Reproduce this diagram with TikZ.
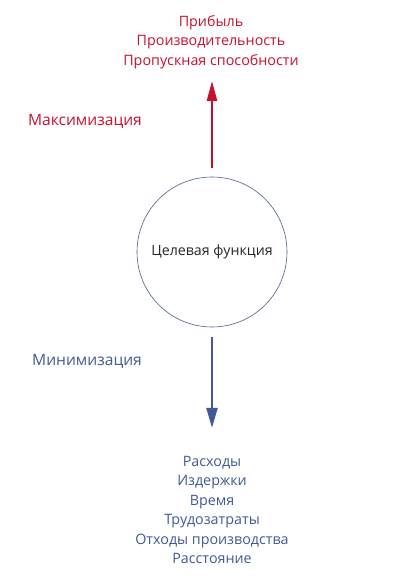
\documentclass[tikz,border=0pt]{standalone}
\usepackage{fontspec}
\setmainfont{Open Sans}
\usepackage{xcolor}
\usetikzlibrary{arrows.meta, positioning}

\definecolor{maxred}{HTML}{C8102E}
\definecolor{minblue}{HTML}{3F5A96}
\definecolor{ringblue}{HTML}{4A5F85}

\begin{document}
\begin{tikzpicture}[
    x=1pt, y=1pt,
    goalnode/.style={draw=ringblue, circle, line width=0.6pt, minimum size=150pt, inner sep=0pt, font=\fontsize{14.2}{16}\selectfont, text=black!85},
    list/.style={align=center, inner sep=0pt, font=\fontsize{14.3}{19.5}\selectfont},
    dirlbl/.style={inner sep=0pt, font=\fontsize{15.6}{18}\selectfont},
    maxarrow/.style={draw=maxred, line width=2.5pt, -{Triangle[length=20pt, width=10pt]}},
    minarrow/.style={draw=minblue, line width=2.5pt, -{Triangle[length=20pt, width=11pt]}},
]
\useasboundingbox (0,0) rectangle (419,587);

\node[goalnode] (goal) at (212,335) {Целевая функция};

\node[list, text=maxred] (maxlist) at (211,545) {Прибыль\\Производительность\\Пропускная способности};
\node[dirlbl, text=maxred] (maxlbl) at (85,466) {Максимизация};

\node[list, text=minblue] (minlist) at (212,77) {Расходы\\Издержки\\Время\\Трудозатраты\\Отходы производства\\Расстояние};
\node[dirlbl, text=minblue] (minlbl) at (87,226) {Минимизация};

\draw[maxarrow, shorten <=9pt, shorten >=12pt] (goal) -- (goal |- maxlist.south);
\draw[minarrow, shorten <=10pt, shorten >=28pt] (goal) -- (goal |- minlist.north);
\end{tikzpicture}
\end{document}
